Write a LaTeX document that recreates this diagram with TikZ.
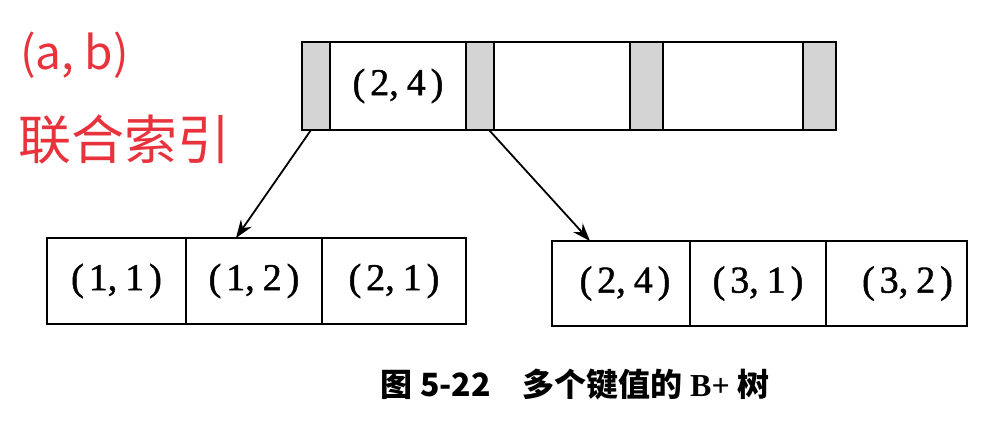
\documentclass[tikz,border=0pt]{standalone}
\usepackage{fontspec}
\setmainfont{Liberation Serif}
\newfontfamily\cjk{Noto Sans CJK SC}
\newfontfamily\keyfont[FakeBold=1.2]{Liberation Serif}
\usetikzlibrary{arrows.meta}
\definecolor{annred}{RGB}{232,50,60}
\definecolor{ptrgray}{RGB}{212,212,212}
\newcommand{\pr}[2]{\raisebox{-7pt}{\keyfont\fontsize{38}{44}\selectfont(\kern5pt#1,\kern8pt#2\kern5pt)}}
\begin{document}
\begin{tikzpicture}[x=1pt,y=-1pt,
  cell/.style={draw, line width=2pt, inner sep=0pt, outer sep=0pt, anchor=center},
  topcell/.style={cell, minimum height=88pt},
  ptr/.style={topcell, fill=ptrgray},
  leafl/.style={cell, minimum height=86pt},
  leafr/.style={cell, minimum height=85pt},
  arr/.style={draw, line width=1.8pt, -{Stealth[length=18pt,width=13pt]}},
  redtxt/.style={text=annred, inner sep=0pt, anchor=base west}]
\useasboundingbox (0,0) rectangle (1000,435);
% top node
\node[ptr, minimum width=28pt] (g1) at (316,86) {};
\node[topcell, minimum width=136pt] (k1) at (398,86) {\pr{2}{4}};
\node[ptr, minimum width=28pt] (g2) at (480,86) {};
\node[topcell, minimum width=136pt] (k2) at (562,86) {};
\node[ptr, minimum width=33pt] (g3) at (646.5,86) {};
\node[topcell, minimum width=140pt] (k3) at (733,86) {};
\node[ptr, minimum width=33pt] (g4) at (819.5,86) {};
% left leaf
\node[leafl, minimum width=139pt] (l1) at (116.5,281) {\pr{1}{1}};
\node[leafl, minimum width=136pt] (l2) at (254,281) {\pr{1}{2}};
\node[leafl, minimum width=144pt] (l3) at (394,281) {\pr{2}{1}};
% right leaf
\node[leafr, minimum width=138pt] (r1) at (621,283.5) {\hspace*{8pt}\pr{2}{4}};
\node[leafr, minimum width=136pt] (r2) at (758,283.5) {\pr{3}{1}};
\node[leafr, minimum width=141pt] (r3) at (896.5,283.5) {\hspace*{22pt}\pr{3}{2}};
% arrows
\draw[arr] ([xshift=-5pt]g1.south) -- ([xshift=-18pt]l2.north);
\draw[arr] ([xshift=9pt]g2.south) -- ([xshift=-31pt]r1.north);
% red annotation
\node[redtxt, font=\cjk\fontsize{46}{50}\selectfont] (ab) at (20,70) {(a, b)};
\node[redtxt, font=\cjk\fontsize{53}{58}\selectfont] (lh) at (18,160) {联合索引};
% caption
\node[inner sep=0pt, anchor=base] (cap) at (575,396)
  {\cjk\bfseries\fontsize{32}{36}\selectfont 图 5-22\hspace{1em}多个键值的 {\rmfamily\bfseries B+} 树};
\end{tikzpicture}
\end{document}
